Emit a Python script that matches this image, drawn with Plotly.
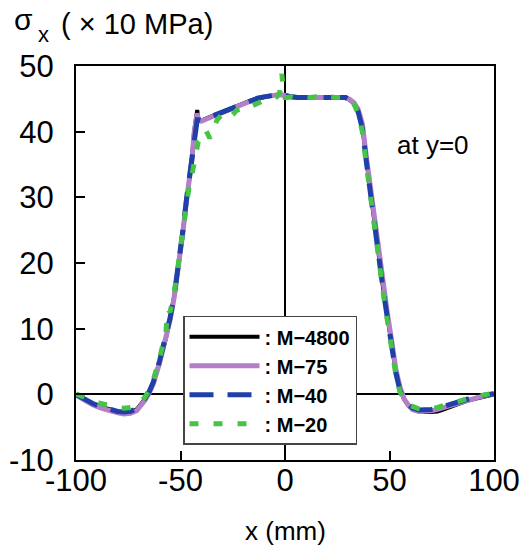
import plotly.graph_objects as go

# ---- data ----
x_base = [-100, -96, -92, -88, -84, -80, -77, -74, -71, -69, -67, -65, -63, -60, -57, -55, -53, -51,
          -49, -47, -45.5, -44.5, -43.5, -42.5, -42, -41.5, -40, -37, -34, -31, -28, -25, -22, -19,
          -16, -13, -10, -7, -4, -1, 0, 3, 6, 9, 12, 15, 18, 21, 24, 27, 29, 31, 33, 35, 37, 39, 41,
          43, 45, 47, 49, 51, 53, 55, 57, 59, 61, 64, 67, 70, 73, 76, 80, 84, 88, 92, 96, 100]

y_m4800 = [-0.1, -0.8, -1.4, -1.9, -2.3, -2.6, -2.8, -2.7, -2.3, -1.6, -0.7, 0.3, 1.8, 5.0, 8.5, 11.5,
           15.0, 19.5, 24.5, 30.0, 33.5, 36.0, 40.0, 42.3, 43.3, 42.0, 41.7, 42.1, 42.5, 42.8, 43.2,
           43.6, 44.0, 44.4, 44.8, 45.1, 45.3, 45.5, 45.6, 45.6, 45.5, 45.3, 45.2, 45.2, 45.2, 45.2,
           45.2, 45.2, 45.3, 45.3, 45.2, 44.8, 44.3, 43.2, 40.8, 35.5, 30.4, 25.2, 20.2, 16.0, 11.8,
           7.8, 3.5, 0.8, -0.8, -1.6, -2.1, -2.5, -2.7, -2.7, -2.6, -2.3, -1.8, -1.3, -0.9, -0.6, -0.3, 0.0]

y_m75 = [-0.1, -0.9, -1.6, -2.1, -2.5, -2.8, -3.0, -2.9, -2.5, -1.8, -0.9, 0.2, 1.6, 4.8, 8.3, 11.3,
         14.8, 19.3, 24.3, 29.8, 33.3, 35.8, 39.8, 42.0, 42.8, 41.9, 41.6, 42.0, 42.4, 42.8, 43.2,
         43.6, 44.0, 44.4, 44.8, 45.1, 45.3, 45.5, 45.6, 45.6, 45.5, 45.3, 45.2, 45.2, 45.2, 45.2,
         45.2, 45.2, 45.3, 45.3, 45.2, 44.9, 44.4, 43.4, 41.2, 36.0, 31.0, 25.8, 20.8, 16.5, 12.3,
         8.2, 3.9, 1.1, -0.7, -1.7, -2.3, -2.6, -2.6, -2.5, -2.3, -2.0, -1.6, -1.2, -0.8, -0.5, -0.2, 0.1]

y_m40 = [0.0, -0.8, -1.4, -1.9, -2.3, -2.6, -2.7, -2.6, -2.2, -1.5, -0.6, 0.4, 1.9, 5.1, 8.6, 11.6,
         15.1, 19.6, 24.6, 30.1, 33.6, 36.1, 39.6, 41.2, 41.8, 41.8, 41.7, 42.1, 42.5, 42.8, 43.2,
         43.6, 44.0, 44.4, 44.8, 45.1, 45.3, 45.5, 45.6, 45.6, 45.5, 45.3, 45.2, 45.2, 45.2, 45.2,
         45.2, 45.2, 45.3, 45.3, 45.2, 44.8, 44.2, 43.0, 40.5, 35.2, 30.1, 25.0, 20.0, 15.8, 11.6,
         7.6, 3.3, 0.6, -0.9, -1.6, -2.1, -2.4, -2.4, -2.3, -2.1, -1.8, -1.4, -1.0, -0.6, -0.3, -0.1, 0.1]

x_m20 = [-100, -96, -92, -88, -84, -80, -77, -74, -71, -69, -67, -65, -63, -60, -57, -56, -55, -53, -51,
         -49, -47, -45.5, -44.5, -43.5, -42.5, -41.5, -40, -38, -36, -34, -32.5, -31, -29.7, -28, -27,
         -25, -23, -21.5, -20, -18, -15, -12, -9, -6, -4, -2.5, -1.5, -1, 0, 1, 3, 6, 9, 12, 15, 18,
         21, 24, 27, 29, 31, 33, 35, 37, 39, 41, 43, 45, 47, 49, 51, 53, 55, 57, 59, 61, 64, 67, 70,
         73, 76, 80, 84, 88, 92, 96, 100]

y_m20 = [0.1, -0.5, -1.0, -1.4, -1.8, -2.0, -2.1, -2.0, -1.7, -1.2, -0.4, 0.6, 2.2, 5.5, 9.5, 13.0,
         12.5, 15.5, 20.0, 24.8, 29.5, 32.5, 33.5, 35.5, 37.2, 38.5, 39.0, 40.3, 39.0, 40.5, 41.8,
         42.3, 42.7, 42.4, 42.1, 42.6, 43.3, 43.4, 43.2, 43.6, 44.1, 44.6, 44.9, 45.2, 45.3, 46.0,
         48.8, 47.0, 45.2, 45.2, 45.3, 45.1, 45.3, 45.2, 45.3, 45.1, 45.3, 45.2, 45.3, 45.2, 44.9,
         44.2, 42.8, 40.0, 34.8, 29.8, 24.6, 19.6, 15.4, 11.2, 7.2, 3.0, 0.4, -1.0, -1.6, -1.9, -2.2,
         -2.3, -2.2, -2.0, -1.7, -1.3, -0.9, -0.6, -0.3, -0.1, 0.2]

series_names = [": M−4800", ": M−75", ": M−40", ": M−20"]
x_ticks = [-100, -50, 0, 50, 100]
x_tick_text = ["-100", "-50", "0", "50", "100"]
y_ticks = [-10, 0, 10, 20, 30, 40, 50]
y_tick_text = ["-10", "0", "10", "20", "30", "40", "50"]

FONT = "Liberation Sans, Arial"

fig = go.Figure()
fig.add_trace(go.Scatter(x=x_base, y=y_m4800, mode="lines", name=series_names[0],
                         line=dict(color="#000000", width=4)))
fig.add_trace(go.Scatter(x=x_base, y=y_m75, mode="lines", name=series_names[1],
                         line=dict(color="#b27fc8", width=5)))
fig.add_trace(go.Scatter(x=x_base, y=y_m40, mode="lines", name=series_names[2],
                         line=dict(color="#1e40a8", width=5, dash="24px,14px")))
fig.add_trace(go.Scatter(x=x_m20, y=y_m20, mode="lines", name=series_names[3],
                         line=dict(color="#46c446", width=5, dash="9px,15px")))

axis_common = dict(showline=True, linecolor="black", linewidth=2, mirror=True,
                   ticks="inside", ticklen=9, tickwidth=2, tickcolor="black",
                   showgrid=False, zeroline=True, zerolinecolor="black", zerolinewidth=1.5,
                   automargin=False,
                   tickfont=dict(family=FONT, size=31, color="black"))

fig.update_xaxes(range=[-100, 100], tickvals=x_ticks, ticktext=x_tick_text,
                 ticklabelstandoff=-8, **axis_common)
fig.update_yaxes(range=[-10, 50], tickvals=y_ticks, ticktext=y_tick_text,
                 ticklabelstandoff=14, **axis_common)

fig.update_layout(
    width=526, height=547,
    margin=dict(l=76, r=32, t=66, b=87),
    paper_bgcolor="white", plot_bgcolor="white",
    showlegend=True,
    legend=dict(x=0.256, y=0.366, xanchor="left", yanchor="top",
                bgcolor="white", bordercolor="#444444", borderwidth=1.5,
                font=dict(family=FONT, size=20, color="black", weight="bold"),
                itemwidth=70, tracegroupgap=0),
    font=dict(family=FONT, color="black"),
)

fig.add_annotation(x=71, y=38, xref="x", yref="y", text="at y=0", showarrow=False,
                   font=dict(family=FONT, size=26, color="black"))
# axis title: sigma, subscript x, unit
fig.add_annotation(x=-0.1256, y=1.118, xref="paper", yref="paper", xanchor="center", yanchor="middle",
                   text="σ", showarrow=False, font=dict(family=FONT, size=30, color="black"))
fig.add_annotation(x=-0.0766, y=1.081, xref="paper", yref="paper", xanchor="center", yanchor="middle",
                   text="x", showarrow=False, font=dict(family=FONT, size=22, color="black"))
fig.add_annotation(x=-0.0407, y=1.1066, xref="paper", yref="paper", xanchor="left", yanchor="middle",
                   text="( × 10 MPa)", showarrow=False,
                   font=dict(family=FONT, size=29, color="black"))
fig.add_annotation(x=0.5, y=-0.18, xref="paper", yref="paper", xanchor="center", yanchor="middle",
                   text="x (mm)", showarrow=False,
                   font=dict(family=FONT, size=26, color="black"))

fig.write_html("out.html")
